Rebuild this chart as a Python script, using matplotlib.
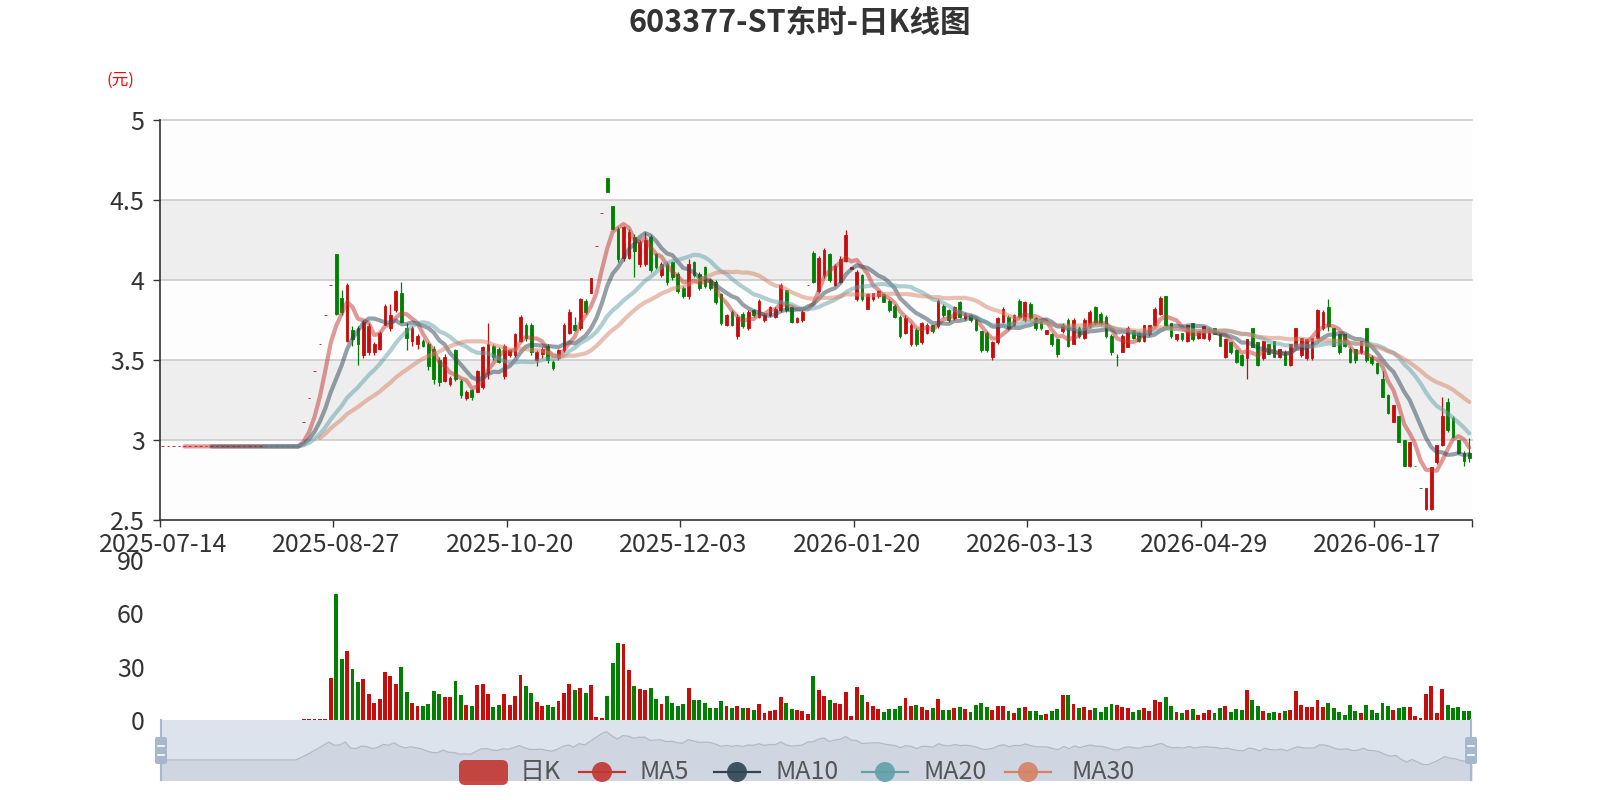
import matplotlib
matplotlib.use('Agg')
import matplotlib.pyplot as plt
from matplotlib.patches import FancyBboxPatch, Circle
import numpy as np
import pandas as pd

plt.rcParams['font.family'] = ['Noto Sans CJK SC', 'DejaVu Sans']

# trading days: weekdays minus exchange holidays
holidays = ['2025-10-01', '2025-10-02', '2025-10-03', '2025-10-06', '2025-10-07', '2025-10-08',
            '2026-01-01', '2026-01-02',
            '2026-02-16', '2026-02-17', '2026-02-18', '2026-02-19', '2026-02-20', '2026-02-23',
            '2026-04-06', '2026-05-01', '2026-05-04', '2026-05-05', '2026-06-19']
dates = [d.strftime('%Y-%m-%d') for d in pd.bdate_range('2025-07-14', '2026-07-13')
         if d.strftime('%Y-%m-%d') not in holidays]

opens = [
    2.96, 2.96, 2.96, 2.96, 2.96, 2.96, 2.96, 2.96, 2.96, 2.96,
    2.96, 2.96, 2.96, 2.96, 2.96, 2.96, 2.96, 2.96, 2.96, 2.96,
    2.96, 2.96, 2.96, 2.96, 2.96, 2.96, 3.11, 3.26, 3.43, 3.60,
    3.78, 3.97, 4.16, 3.89, 3.62, 3.69, 3.70, 3.53, 3.55, 3.55,
    3.57, 3.72, 3.70, 3.81, 3.92, 3.70, 3.62, 3.60, 3.62, 3.60,
    3.57, 3.50, 3.37, 3.35, 3.56, 3.37, 3.26, 3.31, 3.30, 3.33,
    3.42, 3.59, 3.57, 3.40, 3.53, 3.53, 3.62, 3.72, 3.72, 3.50,
    3.54, 3.59, 3.49, 3.51, 3.56, 3.67, 3.72, 3.70, 3.87, 3.92,
    4.21, 4.42, 4.64, 4.46, 4.32, 4.14, 4.14, 4.27, 4.10, 4.10,
    4.27, 4.16, 4.03, 4.10, 4.11, 4.04, 3.95, 3.90, 4.11, 4.04,
    4.08, 4.00, 3.99, 3.91, 3.72, 3.80, 3.65, 3.79, 3.70, 3.81,
    3.77, 3.75, 3.78, 3.77, 3.81, 3.94, 3.83, 3.74, 3.75, 3.97,
    4.17, 3.93, 4.03, 4.16, 3.97, 3.99, 4.12, 4.07, 3.88, 4.03,
    3.82, 3.88, 3.90, 3.91, 3.87, 3.84, 3.77, 3.67, 3.60, 3.69,
    3.61, 3.67, 3.72, 3.71, 3.84, 3.81, 3.76, 3.86, 3.76, 3.78,
    3.75, 3.68, 3.67, 3.52, 3.61, 3.74, 3.77, 3.72, 3.87, 3.75,
    3.85, 3.76, 3.74, 3.66, 3.66, 3.63, 3.68, 3.75, 3.60, 3.70,
    3.64, 3.71, 3.83, 3.79, 3.77, 3.65, 3.52, 3.55, 3.58, 3.69,
    3.67, 3.62, 3.66, 3.72, 3.79, 3.90, 3.73, 3.63, 3.67, 3.62,
    3.73, 3.64, 3.64, 3.63, 3.70, 3.66, 3.52, 3.61, 3.56, 3.53,
    3.51, 3.70, 3.61, 3.51, 3.60, 3.62, 3.52, 3.55, 3.47, 3.59,
    3.53, 3.51, 3.51, 3.64, 3.70, 3.83, 3.70, 3.66, 3.66, 3.57,
    3.57, 3.55, 3.70, 3.52, 3.48, 3.38, 3.28, 3.11, 3.15, 3.00,
    2.84, 2.84, 2.70, 2.57, 2.57, 2.86, 2.97, 3.24, 3.14, 3.00,
    2.92, 2.92]

closes = [
    2.96, 2.96, 2.96, 2.96, 2.96, 2.96, 2.96, 2.96, 2.96, 2.96,
    2.96, 2.96, 2.96, 2.96, 2.96, 2.96, 2.96, 2.96, 2.96, 2.96,
    2.96, 2.96, 2.96, 2.96, 2.96, 2.96, 3.11, 3.26, 3.43, 3.60,
    3.78, 3.97, 3.79, 3.80, 3.97, 3.63, 3.60, 3.74, 3.71, 3.60,
    3.67, 3.84, 3.78, 3.93, 3.74, 3.64, 3.70, 3.65, 3.59, 3.46,
    3.38, 3.36, 3.52, 3.39, 3.38, 3.28, 3.30, 3.27, 3.43, 3.58,
    3.60, 3.52, 3.49, 3.59, 3.56, 3.66, 3.77, 3.64, 3.55, 3.55,
    3.57, 3.50, 3.45, 3.56, 3.72, 3.80, 3.69, 3.88, 3.80, 4.01,
    4.21, 4.42, 4.55, 4.32, 4.13, 4.33, 4.30, 4.18, 4.24, 4.25,
    4.06, 4.08, 4.10, 3.99, 4.02, 3.93, 3.90, 4.10, 4.03, 3.95,
    3.96, 3.95, 3.86, 3.73, 3.78, 3.72, 3.77, 3.71, 3.80, 3.78,
    3.87, 3.78, 3.83, 3.82, 3.97, 3.81, 3.74, 3.76, 3.80, 3.97,
    3.99, 4.14, 4.19, 4.00, 4.09, 4.13, 4.28, 4.08, 4.05, 3.88,
    3.91, 3.92, 3.93, 3.86, 3.81, 3.77, 3.65, 3.76, 3.72, 3.60,
    3.73, 3.72, 3.68, 3.87, 3.78, 3.75, 3.83, 3.77, 3.79, 3.75,
    3.69, 3.56, 3.56, 3.61, 3.76, 3.82, 3.70, 3.78, 3.77, 3.86,
    3.76, 3.70, 3.70, 3.69, 3.60, 3.54, 3.72, 3.59, 3.75, 3.65,
    3.75, 3.80, 3.73, 3.73, 3.65, 3.55, 3.52, 3.65, 3.70, 3.64,
    3.62, 3.72, 3.72, 3.82, 3.89, 3.72, 3.65, 3.66, 3.63, 3.72,
    3.63, 3.68, 3.71, 3.68, 3.66, 3.59, 3.63, 3.55, 3.49, 3.47,
    3.63, 3.58, 3.47, 3.62, 3.54, 3.52, 3.57, 3.47, 3.60, 3.70,
    3.64, 3.63, 3.64, 3.81, 3.80, 3.71, 3.59, 3.55, 3.59, 3.49,
    3.50, 3.62, 3.50, 3.48, 3.42, 3.27, 3.17, 3.22, 2.99, 2.84,
    2.99, 2.84, 2.70, 2.70, 2.83, 2.97, 3.15, 3.06, 3.02, 2.92,
    2.87, 2.89]

highs = [
    2.96, 2.96, 2.96, 2.96, 2.96, 2.96, 2.96, 2.96, 2.96, 2.96,
    2.96, 2.96, 2.96, 2.96, 2.96, 2.96, 2.96, 2.96, 2.96, 2.96,
    2.96, 2.96, 2.96, 2.96, 2.96, 2.96, 3.11, 3.26, 3.43, 3.60,
    3.78, 3.97, 4.16, 3.94, 3.98, 3.71, 3.71, 3.75, 3.73, 3.61,
    3.68, 3.85, 3.85, 3.94, 3.99, 3.73, 3.71, 3.66, 3.63, 3.61,
    3.59, 3.52, 3.54, 3.40, 3.57, 3.38, 3.31, 3.32, 3.44, 3.59,
    3.73, 3.60, 3.58, 3.60, 3.57, 3.67, 3.78, 3.73, 3.73, 3.56,
    3.58, 3.60, 3.50, 3.57, 3.73, 3.82, 3.77, 3.89, 3.88, 4.01,
    4.21, 4.42, 4.64, 4.46, 4.33, 4.34, 4.32, 4.29, 4.25, 4.30,
    4.28, 4.17, 4.11, 4.11, 4.12, 4.05, 3.96, 4.13, 4.12, 4.05,
    4.09, 4.01, 4.00, 3.92, 3.79, 3.81, 3.79, 3.80, 3.81, 3.82,
    3.88, 3.79, 3.84, 3.83, 3.98, 3.94, 3.84, 3.77, 3.81, 3.97,
    4.18, 4.15, 4.20, 4.17, 4.10, 4.15, 4.31, 4.08, 4.06, 4.04,
    3.92, 3.92, 3.94, 3.92, 3.88, 3.85, 3.78, 3.78, 3.73, 3.70,
    3.74, 3.73, 3.72, 3.88, 3.85, 3.82, 3.84, 3.87, 3.80, 3.79,
    3.76, 3.68, 3.68, 3.62, 3.77, 3.83, 3.78, 3.79, 3.88, 3.87,
    3.86, 3.77, 3.75, 3.69, 3.67, 3.64, 3.73, 3.76, 3.76, 3.71,
    3.76, 3.81, 3.84, 3.80, 3.78, 3.66, 3.54, 3.66, 3.71, 3.69,
    3.68, 3.72, 3.72, 3.83, 3.90, 3.90, 3.73, 3.66, 3.67, 3.72,
    3.73, 3.68, 3.71, 3.69, 3.70, 3.66, 3.63, 3.61, 3.57, 3.54,
    3.63, 3.70, 3.61, 3.62, 3.60, 3.62, 3.57, 3.56, 3.60, 3.70,
    3.64, 3.63, 3.64, 3.82, 3.81, 3.88, 3.70, 3.66, 3.66, 3.58,
    3.57, 3.62, 3.70, 3.53, 3.48, 3.43, 3.29, 3.22, 3.15, 3.00,
    2.99, 2.84, 2.70, 2.70, 2.83, 2.97, 3.27, 3.26, 3.15, 3.00,
    2.93, 3.01]

lows = [
    2.96, 2.96, 2.96, 2.96, 2.96, 2.96, 2.96, 2.96, 2.96, 2.96,
    2.96, 2.96, 2.96, 2.96, 2.96, 2.96, 2.96, 2.96, 2.96, 2.96,
    2.96, 2.96, 2.96, 2.96, 2.96, 2.96, 3.11, 3.26, 3.43, 3.60,
    3.78, 3.97, 3.78, 3.78, 3.61, 3.59, 3.47, 3.51, 3.53, 3.53,
    3.56, 3.72, 3.68, 3.80, 3.73, 3.56, 3.59, 3.57, 3.58, 3.44,
    3.35, 3.34, 3.36, 3.34, 3.37, 3.26, 3.25, 3.25, 3.30, 3.32,
    3.38, 3.50, 3.48, 3.38, 3.52, 3.52, 3.61, 3.62, 3.53, 3.46,
    3.51, 3.48, 3.44, 3.50, 3.55, 3.66, 3.68, 3.69, 3.79, 3.92,
    4.21, 4.42, 4.55, 4.31, 4.11, 4.12, 4.13, 4.02, 4.08, 4.09,
    4.05, 4.07, 4.02, 3.97, 4.00, 3.92, 3.89, 3.88, 4.02, 3.94,
    3.95, 3.94, 3.85, 3.72, 3.71, 3.71, 3.63, 3.70, 3.69, 3.77,
    3.76, 3.74, 3.77, 3.76, 3.80, 3.80, 3.73, 3.73, 3.74, 3.97,
    3.98, 3.92, 4.01, 3.99, 3.96, 3.98, 4.11, 4.07, 3.87, 3.87,
    3.82, 3.87, 3.89, 3.86, 3.80, 3.76, 3.64, 3.66, 3.59, 3.59,
    3.60, 3.66, 3.67, 3.70, 3.77, 3.74, 3.75, 3.76, 3.75, 3.74,
    3.68, 3.55, 3.55, 3.50, 3.60, 3.73, 3.69, 3.71, 3.76, 3.74,
    3.75, 3.69, 3.69, 3.66, 3.59, 3.52, 3.67, 3.58, 3.60, 3.64,
    3.63, 3.70, 3.72, 3.72, 3.64, 3.53, 3.46, 3.55, 3.58, 3.63,
    3.61, 3.61, 3.65, 3.71, 3.78, 3.71, 3.64, 3.62, 3.62, 3.61,
    3.62, 3.63, 3.63, 3.62, 3.66, 3.59, 3.51, 3.54, 3.48, 3.46,
    3.38, 3.58, 3.46, 3.50, 3.54, 3.52, 3.51, 3.47, 3.46, 3.59,
    3.52, 3.50, 3.50, 3.63, 3.69, 3.68, 3.59, 3.54, 3.58, 3.48,
    3.48, 3.54, 3.49, 3.47, 3.41, 3.27, 3.16, 3.11, 2.99, 2.84,
    2.83, 2.84, 2.70, 2.56, 2.56, 2.85, 2.96, 3.05, 3.01, 2.91,
    2.84, 2.86]

volumes = [
    0, 0, 0, 0, 0, 0, 0, 0, 0, 0,
    0, 0, 0, 0, 0, 0, 0, 0, 0, 0,
    0, 0, 0, 0, 0, 0, 0.5, 0.5, 0.4, 0.4,
    0.4, 23.8, 70.9, 34.5, 39.0, 28.5, 21.4, 23.0, 14.6, 9.4,
    11.8, 26.8, 24.8, 20.0, 29.6, 15.6, 9.6, 8.0, 7.7, 9.0,
    16.3, 14.4, 13.1, 13.1, 22.1, 14.0, 8.4, 7.9, 19.5, 20.3,
    14.8, 7.5, 8.3, 14.6, 8.4, 13.3, 25.3, 19.1, 15.0, 10.1,
    7.7, 8.4, 7.3, 10.7, 15.4, 20.3, 16.7, 18.0, 15.4, 19.5,
    1.9, 0.9, 13.5, 32.0, 43.3, 42.6, 28.3, 19.3, 17.4, 16.9,
    17.8, 11.8, 9.0, 13.7, 9.6, 7.7, 8.8, 17.8, 11.4, 11.3,
    9.6, 6.8, 6.8, 10.7, 8.0, 6.8, 7.9, 6.6, 6.8, 5.6,
    8.8, 4.1, 4.9, 5.8, 12.9, 9.4, 6.4, 5.4, 4.9, 3.6,
    24.8, 16.7, 13.3, 11.3, 9.6, 9.0, 15.6, 2.3, 18.4, 13.9,
    9.9, 8.0, 6.4, 4.5, 6.2, 6.2, 7.7, 12.2, 7.9, 8.4,
    7.3, 5.6, 6.8, 11.6, 5.8, 5.6, 6.6, 7.3, 6.0, 4.3,
    8.3, 9.8, 7.5, 5.6, 7.7, 8.0, 5.0, 4.1, 6.9, 7.3,
    5.3, 5.0, 3.0, 3.4, 4.9, 6.2, 14.3, 14.3, 9.0, 6.6,
    7.3, 5.8, 6.8, 4.5, 7.5, 8.8, 8.3, 7.3, 6.6, 4.7,
    5.6, 6.6, 5.0, 11.0, 10.3, 12.9, 8.0, 4.7, 4.1, 5.4,
    6.0, 3.0, 3.8, 5.6, 4.1, 6.6, 7.7, 4.5, 6.0, 5.6,
    16.9, 11.0, 8.0, 5.3, 3.8, 4.3, 3.9, 5.3, 5.6, 16.1,
    8.3, 7.1, 7.1, 11.0, 7.3, 9.4, 6.8, 4.5, 3.0, 8.4,
    5.3, 4.1, 8.3, 5.6, 4.1, 9.4, 8.0, 5.8, 6.9, 7.3,
    7.5, 2.3, 1.3, 14.4, 19.1, 3.8, 17.4, 8.4, 6.8, 7.5,
    5.3, 5.0]

ma_days = [5, 10, 20, 30]
ma_colors = ['#c23531', '#2f4554', '#61a0a8', '#d48265']
UP, DOWN = '#c80c0c', '#008000'

o = np.array(opens); c = np.array(closes)
h = np.array(highs); l = np.array(lows)
n = len(c)
x = np.arange(n)

# candle colour: up/down, flat candles compared with previous close
cols = []
for i in range(n):
    if c[i] > o[i]:
        cols.append(UP)
    elif c[i] < o[i]:
        cols.append(DOWN)
    else:
        cols.append(UP if i == 0 or c[i - 1] <= c[i] else DOWN)
vol_cols = [UP if c[i] >= o[i] else DOWN for i in range(n)]

fig = plt.figure(figsize=(16, 8), dpi=100)
fig.patch.set_facecolor('white')

# ---- price chart
ax = fig.add_axes([0.1, 0.35, 0.82, 0.5])
bands = [(2.5, 3.0), (3.0, 3.5), (3.5, 4.0), (4.0, 4.5), (4.5, 5.0)]
for k, (a, b) in enumerate(bands):
    ax.axhspan(a, b, color='#fdfdfd' if k % 2 == 0 else '#eeeeee', lw=0, zorder=0)
for v in [3, 3.5, 4, 4.5, 5]:
    ax.axhline(v, color='#cccccc', lw=1.2, zorder=0.5, clip_on=False)

ax.vlines(x, l, h, colors=cols, lw=0.9, zorder=2)
ax.bar(x, np.abs(c - o), bottom=np.minimum(o, c), width=0.5, color=cols,
       edgecolor=cols, linewidth=0.6, zorder=2)

close_s = pd.Series(closes)
for d, col in zip(ma_days, ma_colors):
    ma = close_s.rolling(d).mean()
    ax.plot(x, ma, color=col, lw=3, alpha=0.5, zorder=3, solid_capstyle='round')

ax.set_xlim(-0.5, n - 0.5)
ax.set_ylim(2.5, 5)
ax.set_yticks([2.5, 3, 3.5, 4, 4.5, 5])
ax.set_yticklabels(['2.5', '3', '3.5', '4', '4.5', '5'])
lab_idx = list(range(0, n, 32))
ax.set_xticks(lab_idx)
ax.set_xticklabels([dates[i] for i in lab_idx])
ax.set_xticks([i - 0.5 for i in lab_idx] + [n - 0.5], minor=True)
ax.tick_params(axis='x', which='major', length=0, pad=9, labelsize=18, labelcolor='#333333')
ax.tick_params(axis='x', which='minor', length=5, width=1, color='#333333')
ax.tick_params(axis='y', length=5, width=1, color='#333333', pad=6, labelsize=18,
               labelcolor='#333333')
for s in ['top', 'right']:
    ax.spines[s].set_visible(False)
for s in ['left', 'bottom']:
    ax.spines[s].set_color('#333333')
    ax.spines[s].set_linewidth(1.2)
ax.set_facecolor('white')

# ---- volume chart
axv = fig.add_axes([0.1, 0.1, 0.82, 0.2])
axv.bar(x, volumes, width=0.72, color=vol_cols, linewidth=0)
axv.set_xlim(-0.5, n - 0.5)
axv.set_ylim(0, 90)
axv.set_yticks([0, 30, 60, 90])
axv.set_xticks([])
axv.tick_params(axis='y', length=0, pad=11, labelsize=18, labelcolor='#333333')
for s in axv.spines.values():
    s.set_visible(False)

# ---- data zoom slider
axs = fig.add_axes([0.1, 0.025, 0.82, 0.075])
axs.set_facecolor('#dde3ec')
axs.fill_between(x, closes, 0, color='#cfd6e1', lw=0)
axs.plot(x, closes, color='#b3bac6', lw=0.9)
axs.set_xlim(0, n - 1)
axs.set_ylim(1.83, 5.21)
axs.set_xticks([]); axs.set_yticks([])
for s in axs.spines.values():
    s.set_visible(False)

# ---- overlay in pixel coordinates (title, unit, slider handles, legend)
ov = fig.add_axes([0, 0, 1, 1], zorder=10)
ov.set_xlim(0, 1600); ov.set_ylim(800, 0)
ov.axis('off')

ov.text(800, 23, '603377-ST东时-日K线图', fontsize=22, fontweight='bold',
        color='#333333', ha='center', va='center')
ov.text(120, 80, '(元)', fontsize=12, color='red', ha='center', va='center')

for hx in [161, 1471]:
    ov.plot([hx, hx], [720, 780], color='#a7b7cc', lw=1.5)
    ov.add_patch(FancyBboxPatch((hx - 6, 737), 12, 27,
                                boxstyle='round,pad=0,rounding_size=2',
                                fc='#a7b7cc', ec='none'))
    ov.plot([hx - 3, hx + 3], [746, 746], color='white', lw=1.2)
    ov.plot([hx - 3, hx + 3], [755, 755], color='white', lw=1.2)

ov.add_patch(FancyBboxPatch((459, 760), 49, 25, boxstyle='round,pad=0,rounding_size=6',
                            fc='#c23531', ec='none', alpha=0.9))
ov.text(520, 772, '日K', fontsize=18, color='#555555', ha='left', va='center')
legend_items = [('MA5', 579, 640), ('MA10', 714, 775), ('MA20', 862, 923), ('MA30', 1005, 1071)]
for (name, lx, tx), col in zip(legend_items, ma_colors):
    ov.plot([lx, lx + 46], [772, 772], color=col, lw=1.6)
    ov.add_patch(Circle((lx + 23, 772), 10, fc=col, ec='none', alpha=0.9))
    ov.text(tx, 772, name, fontsize=18, color='#555555', ha='left', va='center')

fig.savefig('out.png', dpi=100)
